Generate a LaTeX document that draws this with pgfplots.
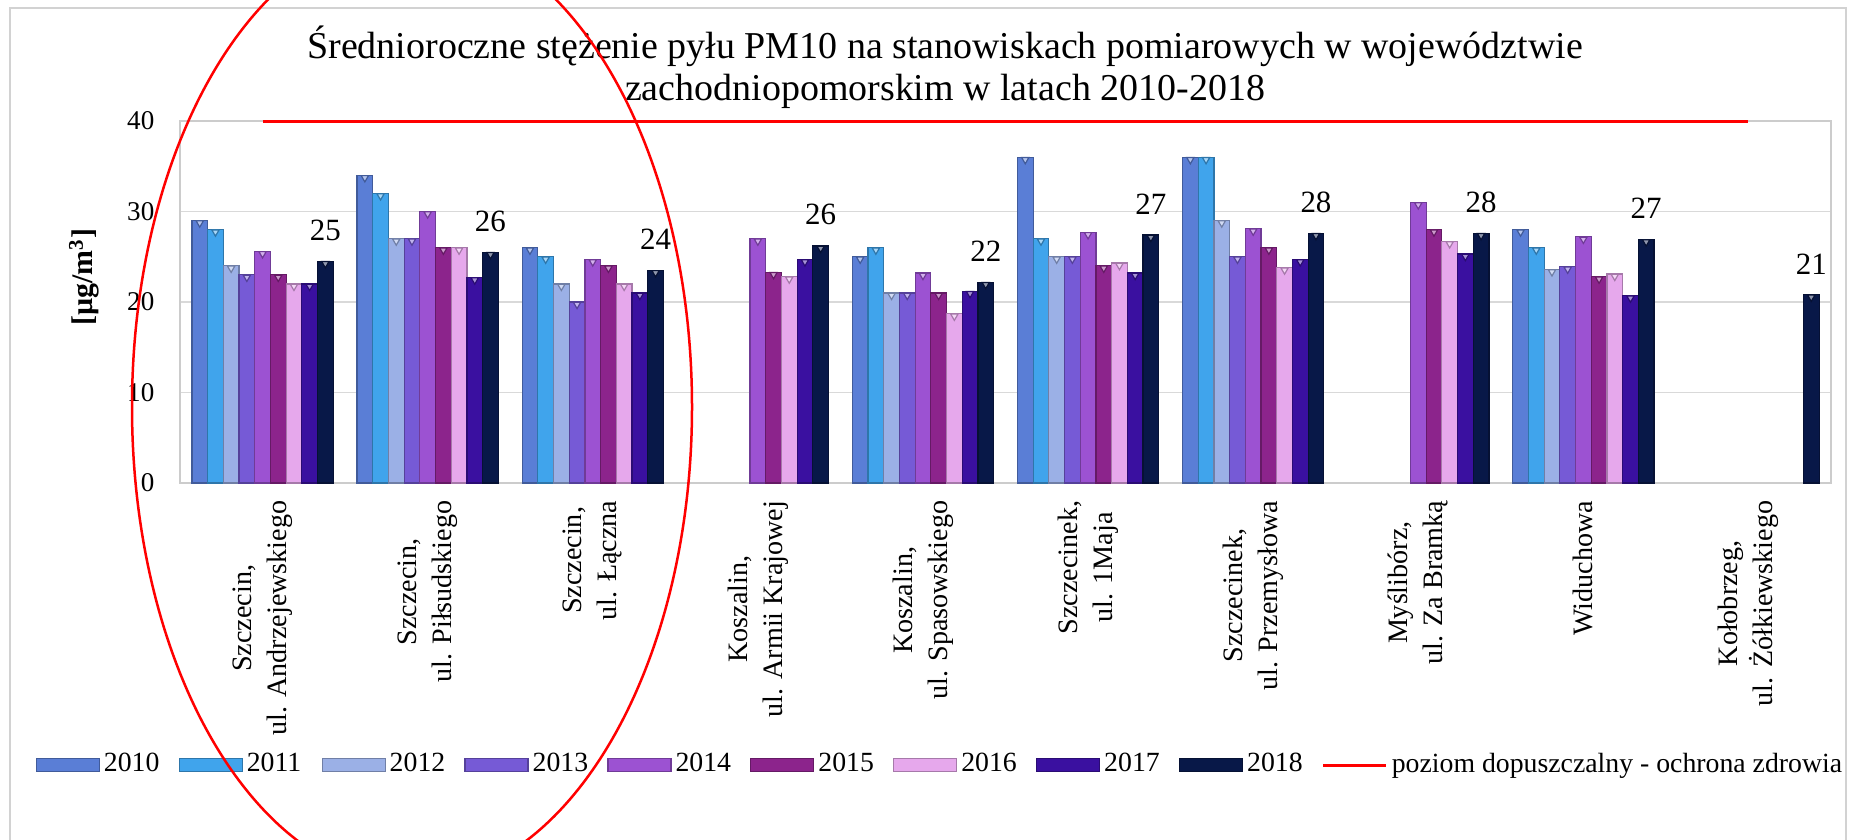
\documentclass[border=0pt]{standalone}
\usepackage{fontspec}
\setmainfont{Liberation Serif}
\usepackage{pgfplots}
\pgfplotsset{compat=1.18}
\definecolor{c2010}{RGB}{90,126,214}
\definecolor{c2011}{RGB}{64,164,236}
\definecolor{c2012}{RGB}{155,176,230}
\definecolor{c2013}{RGB}{118,90,214}
\definecolor{c2014}{RGB}{156,82,210}
\definecolor{c2015}{RGB}{140,36,140}
\definecolor{c2016}{RGB}{230,168,236}
\definecolor{c2017}{RGB}{58,16,160}
\definecolor{c2018}{RGB}{8,24,72}
\pgfplotsset{
  barleg/.style={legend image code/.code={\path[##1] (0mm,-0.65mm) rectangle (6.3mm,0.65mm);}},
  lineleg/.style={legend image code/.code={\draw[##1] (0mm,0mm) -- (6.3mm,0mm);}},
  bars/.style 2 args={ybar, bar width=1.57mm, bar shift=#2,
     fill=#1, draw=#1!72!black, line width=0.12mm, barleg,
     mark=triangle*, mark size=0.42mm,
     mark options={xshift=#2, yshift=-0.24mm, rotate=180, draw=none, fill=#1!45!white}},
}
\begin{document}
\begin{tikzpicture}
\useasboundingbox (0,0) rectangle (185.6mm,83.9mm);
\draw[gray!35, line width=0.15mm] (1.0mm,-1mm) rectangle (184.6mm,83.1mm);
\begin{axis}[
  at={(18mm,35.6mm)}, anchor=south west,
  scale only axis, width=165.1mm, height=36.2mm,
  xmin=-0.5, xmax=9.5, ymin=0, ymax=40,
  clip=false,
  ytick={0,10,20,30,40},
  xtick={0,...,9},
  xticklabels={{Szczecin,\\ul. Andrzejewskiego},{Szczecin,\\ul. Piłsudskiego},{Szczecin,\\ul. Łączna},{Koszalin,\\ul. Armii Krajowej},{Koszalin,\\ul. Spasowskiego},{Szczecinek,\\ul. 1Maja},{Szczecinek,\\ul. Przemysłowa},{Myślibórz,\\ul. Za Bramką},{Widuchowa},{Kołobrzeg,\\ul. Żółkiewskiego}},
  xticklabel style={rotate=90, anchor=east, align=center, inner sep=0pt, font=\fontsize{8}{10}\selectfont},
  xticklabel shift=1.7mm,
  yticklabel style={inner sep=0pt, font=\fontsize{7.7}{9}\selectfont},
  yticklabel shift=2.5mm,
  /pgf/number format/assume math mode=true,
  major tick length=0pt,
  ymajorgrids, grid style={gray!30, line width=0.15mm},
  axis line style={gray!40, line width=0.15mm},
  title={Średnioroczne stężenie pyłu PM10 na stanowiskach pomiarowych w województwie\\zachodniopomorskim w latach 2010-2018},
  title style={align=center, font=\fontsize{10.8}{11.8}\selectfont, at={(axis description cs:0.4634,1.09)}, anchor=center, inner sep=0pt},
  ylabel={[µg/m\textsuperscript{3}]},
  ylabel style={at={(axis description cs:-0.058,0.569)}, anchor=center, font=\bfseries\fontsize{8.5}{10}\selectfont},
  legend columns=10,
  legend style={draw=none, fill=none, inner sep=0pt, at={(axis description cs:-0.0878,-0.779)}, anchor=west,
    font=\fontsize{7.9}{9}\selectfont, nodes={inner sep=0.2mm},
    /tikz/every odd column/.style={column sep=0.2mm},
    /tikz/every even column/.style={column sep=1.77mm}},
]
\addplot[bars={c2010}{-6.28mm}] coordinates {(0,29) (1,34) (2,26) (4,25) (5,36) (6,36) (8,28)};
\addlegendentry{\makebox[5.5mm][l]{2010}}
\addplot[bars={c2011}{-4.71mm}] coordinates {(0,28) (1,32) (2,25) (4,26) (5,27) (6,36) (8,26)};
\addlegendentry{\makebox[5.5mm][l]{2011}}
\addplot[bars={c2012}{-3.14mm}] coordinates {(0,24) (1,27) (2,22) (4,21) (5,25) (6,29) (8,23.6)};
\addlegendentry{\makebox[5.5mm][l]{2012}}
\addplot[bars={c2013}{-1.57mm}] coordinates {(0,23) (1,27) (2,20) (4,21) (5,25) (6,25) (8,23.9)};
\addlegendentry{\makebox[5.5mm][l]{2013}}
\addplot[bars={c2014}{0mm}] coordinates {(0,25.6) (1,30) (2,24.7) (3,27) (4,23.2) (5,27.7) (6,28.1) (7,31) (8,27.2)};
\addlegendentry{\makebox[5.5mm][l]{2014}}
\addplot[bars={c2015}{1.57mm}] coordinates {(0,23) (1,26) (2,24) (3,23.3) (4,21) (5,24) (6,26) (7,28) (8,22.8)};
\addlegendentry{\makebox[5.5mm][l]{2015}}
\addplot[bars={c2016}{3.14mm}] coordinates {(0,22) (1,26) (2,22) (3,22.8) (4,18.7) (5,24.3) (6,23.8) (7,26.7) (8,23.1)};
\addlegendentry{\makebox[5.5mm][l]{2016}}
\addplot[bars={c2017}{4.71mm}] coordinates {(0,22) (1,22.7) (2,21) (3,24.7) (4,21.2) (5,23.2) (6,24.7) (7,25.3) (8,20.7)};
\addlegendentry{\makebox[5.5mm][l]{2017}}
\addplot[bars={c2018}{6.28mm}] coordinates {(0,24.5) (1,25.5) (2,23.5) (3,26.2) (4,22.2) (5,27.4) (6,27.6) (7,27.6) (8,26.9) (9,20.8)};
\addlegendentry{\makebox[5.5mm][l]{2018}}
\addplot[ybar, bar width=1.57mm, bar shift=6.28mm, draw=none, fill=none, forget plot,
  nodes near coords, point meta=explicit symbolic,
  nodes near coords style={anchor=center, xshift=6.28mm, yshift=3.1mm, text=black, font=\fontsize{8.8}{10}\selectfont}]
  coordinates {(0,24.5) [25] (1,25.5) [26] (2,23.5) [24] (3,26.2) [26] (4,22.2) [22] (5,27.4) [27] (6,27.6) [28] (7,27.6) [28] (8,26.9) [27] (9,20.8) [21]};
\addplot[red, line width=0.3mm, sharp plot, mark=none, lineleg]
  coordinates {(0,40) (9,40)};
\addlegendentry{poziom dopuszczalny - ochrona zdrowia}
\end{axis}
\draw[red, line width=0.25mm] (41.2mm,43.2mm) ellipse [x radius=28mm, y radius=47.5mm];
\end{tikzpicture}
\end{document}
